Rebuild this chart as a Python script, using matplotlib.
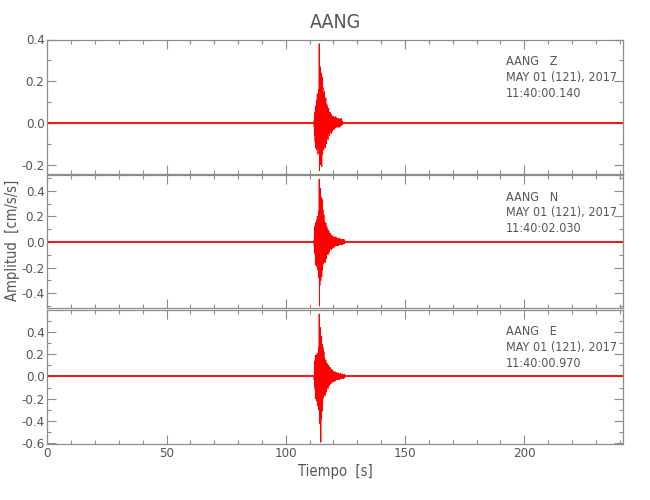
import numpy as np
import matplotlib
matplotlib.use("Agg")
import matplotlib.pyplot as plt
from matplotlib.ticker import MultipleLocator

plt.rcParams['font.family'] = ['DejaVu Sans']
plt.rcParams['font.stretch'] = 'condensed'
plt.rcParams['font.weight'] = 'light'

# estacion y componentes
estacion = "AANG"
componentes = ["Z", "N", "E"]
fecha = "MAY 01 (121), 2017"
horas_inicio = ["11:40:00.140", "11:40:02.030", "11:40:00.970"]

# ventana de tiempo del registro [s]
t_fin = 241.5
# tramo del sismo: muestras cada 0.1 s desde t0
t0_sismo = 111.8
dt_sismo = 0.1

# amplitudes [cm/s/s]
amp_z = [
    0.01, -0.02, 0.04, -0.06, 0.05, -0.09, 0.08, -0.12, 0.06, -0.10,
    0.09, -0.13, 0.11, -0.08, 0.14, -0.11, 0.07, -0.15, 0.12, -0.09,
    0.16, -0.12, 0.38, -0.23, 0.21, -0.18, 0.27, -0.20, 0.15, -0.14,
    0.24, -0.16, 0.19, -0.21, 0.13, -0.15, 0.22, -0.12, 0.17, -0.10,
    0.14, -0.13, 0.11, -0.09, 0.15, -0.11, 0.08, -0.12, 0.10, -0.07,
    0.12, -0.08, 0.07, -0.10, 0.09, -0.06, 0.08, -0.07, 0.05, -0.08,
    0.06, -0.05, 0.07, -0.04, 0.05, -0.06, 0.04, -0.05, 0.05, -0.03,
    0.04, -0.04, 0.03, -0.05, 0.04, -0.03, 0.03, -0.04, 0.03, -0.02,
    0.03, -0.03, 0.02, -0.03, 0.03, -0.02, 0.02, -0.03, 0.02, -0.02,
    0.02, -0.02, 0.03, -0.02, 0.02, -0.02, 0.02, -0.01, 0.02, -0.02,
    0.02, -0.01, 0.02, -0.02, 0.01, -0.02, 0.02, -0.01, 0.01, -0.02,
    0.01, -0.01, 0.02, -0.01, 0.01, -0.01, 0.02, -0.01, 0.01, -0.01,
]
amp_n = [
    0.01, -0.03, 0.06, -0.08, 0.12, -0.10, 0.15, -0.18, 0.10, -0.14,
    0.13, -0.19, 0.17, -0.12, 0.20, -0.16, 0.11, -0.22, 0.18, -0.15,
    0.24, -0.28, 0.49, -0.50, 0.30, -0.34, 0.42, -0.26, 0.22, -0.30,
    0.35, -0.24, 0.28, -0.27, 0.19, -0.22, 0.33, -0.18, 0.25, -0.16,
    0.18, -0.17, 0.21, -0.14, 0.16, -0.15, 0.12, -0.16, 0.14, -0.10,
    0.15, -0.11, 0.10, -0.13, 0.12, -0.08, 0.10, -0.09, 0.07, -0.10,
    0.08, -0.07, 0.09, -0.06, 0.07, -0.08, 0.06, -0.06, 0.07, -0.05,
    0.06, -0.05, 0.05, -0.06, 0.05, -0.04, 0.05, -0.05, 0.04, -0.04,
    0.04, -0.04, 0.03, -0.04, 0.04, -0.03, 0.03, -0.04, 0.03, -0.03,
    0.03, -0.03, 0.04, -0.03, 0.03, -0.02, 0.03, -0.03, 0.02, -0.03,
    0.03, -0.02, 0.02, -0.03, 0.02, -0.02, 0.03, -0.02, 0.02, -0.02,
    0.02, -0.02, 0.02, -0.01, 0.02, -0.02, 0.01, -0.02, 0.02, -0.01,
    0.01, -0.02, 0.02, -0.01, 0.01, -0.01, 0.02, -0.01, 0.01, -0.01,
]
amp_e = [
    0.01, -0.03, 0.07, -0.09, 0.14, -0.12, 0.19, -0.20, 0.12, -0.17,
    0.15, -0.22, 0.19, -0.14, 0.21, -0.26, 0.13, -0.20, 0.18, -0.16,
    0.26, -0.30, 0.56, -0.42, 0.34, -0.36, 0.44, -0.32, 0.37, -0.59,
    0.30, -0.38, 0.36, -0.28, 0.24, -0.31, 0.29, -0.22, 0.26, -0.19,
    0.20, -0.18, 0.22, -0.15, 0.17, -0.16, 0.13, -0.17, 0.14, -0.12,
    0.15, -0.13, 0.11, -0.14, 0.12, -0.09, 0.11, -0.10, 0.08, -0.11,
    0.09, -0.08, 0.10, -0.07, 0.08, -0.08, 0.07, -0.07, 0.08, -0.06,
    0.07, -0.06, 0.06, -0.06, 0.05, -0.05, 0.06, -0.05, 0.05, -0.04,
    0.05, -0.04, 0.04, -0.05, 0.04, -0.04, 0.04, -0.04, 0.03, -0.04,
    0.04, -0.03, 0.04, -0.03, 0.03, -0.03, 0.03, -0.03, 0.03, -0.03,
    0.03, -0.03, 0.03, -0.02, 0.03, -0.02, 0.02, -0.03, 0.02, -0.02,
    0.02, -0.02, 0.03, -0.02, 0.02, -0.02, 0.02, -0.02, 0.02, -0.01,
    0.02, -0.01, 0.02, -0.02, 0.01, -0.02, 0.01, -0.01, 0.02, -0.01,
]
trazas = [amp_z, amp_n, amp_e]

# limites verticales de cada panel
limites_y = [(-0.245, 0.40), (-0.515, 0.52), (-0.605, 0.595)]

gris_texto = "#555555"
gris_ejes = "#8c8c8c"
rojo = "#ff0000"

fig = plt.figure(figsize=(6.5, 5.0), dpi=100)
izq, ancho = 0.0728, 0.886
# (bottom, height) en fraccion de figura
cajas = [(0.652, 0.269), (0.384, 0.2654), (0.112, 0.268)]

ejes = []
for i, (amp, comp, hora) in enumerate(zip(trazas, componentes, horas_inicio)):
    b, h = cajas[i]
    ax = fig.add_axes([izq, b, ancho, h])
    ejes.append(ax)

    t = t0_sismo + dt_sismo * np.arange(len(amp))
    # ruido de fondo a lo largo de todo el registro
    ax.axhline(0, color=rojo, lw=1.3, zorder=2)
    ax.plot(t, amp, color=rojo, lw=0.6, zorder=3)

    ax.set_xlim(0, t_fin)
    ax.set_ylim(*limites_y[i])
    ax.xaxis.set_major_locator(MultipleLocator(50))
    ax.xaxis.set_minor_locator(MultipleLocator(10))
    ax.yaxis.set_major_locator(MultipleLocator(0.2))
    ax.yaxis.set_minor_locator(MultipleLocator(0.1))
    ax.yaxis.set_major_formatter(plt.FormatStrFormatter('%.1f'))

    for s in ax.spines.values():
        s.set_color(gris_ejes)
        s.set_linewidth(0.9)
    ax.tick_params(which='both', direction='in', top=True, right=True,
                   color=gris_ejes, labelcolor=gris_texto, labelsize=9.5, width=0.8)
    ax.tick_params(which='major', length=6.5, pad=2)
    ax.tick_params(which='minor', length=3)
    if i < 2:
        ax.tick_params(labelbottom=False)

    ax.text(0.796, 0.885, f"{estacion}   {comp}\n{fecha}\n{hora}",
            transform=ax.transAxes, ha='left', va='top', fontsize=9,
            color=gris_texto, linespacing=1.28)

ejes[0].set_title(estacion, fontsize=14, color=gris_texto, pad=8)
ejes[2].set_xlabel("Tiempo  [s]", fontsize=10.5, color=gris_texto, labelpad=3)
fig.text(0.02, 0.52, "Amplitud  [cm/s/s]", rotation=90, ha='center', va='center',
         fontsize=10.5, color=gris_texto)

fig.savefig("out.png", dpi=100)
